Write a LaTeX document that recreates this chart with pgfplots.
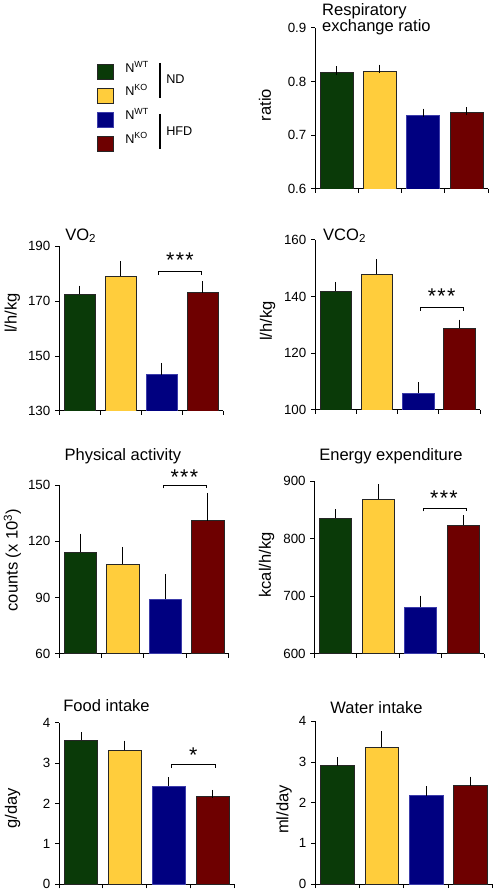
\documentclass[border=0pt]{standalone}
\usepackage{fontspec}
\setmainfont{Liberation Sans}
\usepackage{pgfplots}
\pgfplotsset{compat=1.18}
\definecolor{cG}{RGB}{10,58,8}
\definecolor{cY}{RGB}{255,205,60}
\definecolor{cB}{RGB}{0,0,128}
\definecolor{cBd}{RGB}{60,60,170}
\definecolor{cR}{RGB}{110,0,0}
\newcommand{\legfont}{\fontsize{9.5}{11}\selectfont}
\newcommand{\starfont}{\fontsize{16}{16}\selectfont}
\newcommand{\stars}{*\kern1pt*\kern1pt*}
\pgfplotsset{
  panel/.style={
    scale only axis, anchor=south west, clip mode=individual,
    axis x line*=bottom, axis y line*=left,
    axis line style={-, line width=0.75pt, black},
    xmin=0, xmax=4, xtick={0,1,2,3,4}, xticklabels={},
    tick align=outside, major tick length=3pt,
    major tick style={line width=0.75pt, black},
    ybar, bar width=0.76, bar shift=0pt,
    yticklabel style={font=\fontsize{10}{12}\selectfont, /pgf/number format/assume math mode=true},
    every axis title/.style={inner sep=0pt, font=\fontsize{12.4}{11.8}\selectfont},
    every axis y label/.style={rotate=90, anchor=center, inner sep=0pt, font=\fontsize{12.4}{14}\selectfont},
    error bars/y dir=plus, error bars/y explicit,
    error bars/error mark=-,
    error bars/error mark options={black, line width=0.75pt, mark size=3.1pt},
    error bars/error bar style={black, line width=0.75pt},
  },
  sqlegend/.style={legend image code/.code={\draw[##1, line width=0.75pt] (0pt,-5.7pt) rectangle (11.5pt,5.5pt);}},
}
\begin{document}
\begin{tikzpicture}[x=0.75pt, y=0.75pt]
\useasboundingbox (0,0) rectangle (498,891);

% Respiratory exchange ratio
\begin{axis}[panel, at={(236.25pt,526.5pt)}, width=129.75pt, height=120.75pt,
  ymin=0.6, ymax=0.9, ytick={0.6,0.7,0.8,0.9},
  ylabel={ratio}, ylabel style={at={(axis description cs:-0.289,0.522)}},
  title={Respiratory\\exchange ratio}, title style={at={(axis description cs:0.040,1.153)}, anchor=north west, align=left},
  legend style={at={(axis description cs:-1.258,0.795)}, anchor=north west, draw=none, fill=none,
    inner sep=0pt, outer sep=0pt, row sep=3.3pt, column sep=8.7pt, font=\legfont,
    cells={anchor=base west}, nodes={inner sep=0pt}}]
\addplot[fill=cG, draw=black!85, sqlegend] coordinates {(0.5,0.817) +- (0,0.004)};
\addlegendentry{N\textsuperscript{WT}}
\addplot[fill=cY, draw=black!85, sqlegend] coordinates {(1.5,0.820) +- (0,0.004)};
\addlegendentry{N\textsuperscript{KO}}
\addplot[fill=cB, draw=cBd, sqlegend] coordinates {(2.5,0.738) +- (0,0.004)};
\addlegendentry{N\textsuperscript{WT}}
\addplot[fill=cR, draw=black!85, sqlegend] coordinates {(3.5,0.743) +- (0,0.002)};
\addlegendentry{N\textsuperscript{KO}}
\end{axis}

% VO2
\begin{axis}[panel, at={(44.25pt,360pt)}, width=123pt, height=123.5pt,
  ymin=130, ymax=190, ytick={130,150,170,190},
  ylabel={l/h/kg}, ylabel style={at={(axis description cs:-0.284,0.595)}},
  title={VO\textsubscript{2}}, title style={at={(axis description cs:0.037,1.038)}, anchor=base west}]
\addplot[fill=cG, draw=black!85] coordinates {(0.5,172.6) +- (0,1.6)};
\addplot[fill=cY, draw=black!85] coordinates {(1.5,179.1) +- (0,4.0)};
\addplot[fill=cB, draw=cBd] coordinates {(2.5,143.2) +- (0,2.8)};
\addplot[fill=cR, draw=black!85] coordinates {(3.5,173.1) +- (0,2.6)};
\draw[line width=0.75pt] ([yshift=-2.5pt]axis cs:2.42,180.7) -- (axis cs:2.42,180.7) -- (axis cs:3.48,180.7) -- ([yshift=-2.5pt]axis cs:3.48,180.7);
\node[anchor=base, inner sep=0pt, font=\starfont] at ([yshift=3pt]axis cs:2.95,180.7) {\stars};
\end{axis}

% VCO2
\begin{axis}[panel, at={(236.25pt,360.75pt)}, width=123.75pt, height=127.7pt,
  ymin=100, ymax=160, ytick={100,120,140,160},
  ylabel={l/h/kg}, ylabel style={at={(axis description cs:-0.288,0.523)}},
  title={VCO\textsubscript{2}}, title style={at={(axis description cs:0.048,0.998)}, anchor=base west}]
\addplot[fill=cG, draw=black!85] coordinates {(0.5,142.0) +- (0,1.7)};
\addplot[fill=cY, draw=black!85] coordinates {(1.5,147.9) +- (0,3.8)};
\addplot[fill=cB, draw=cBd] coordinates {(2.5,106.0) +- (0,2.3)};
\addplot[fill=cR, draw=black!85] coordinates {(3.5,128.9) +- (0,1.5)};
\draw[line width=0.75pt] ([yshift=-2.5pt]axis cs:2.55,136.2) -- (axis cs:2.55,136.2) -- (axis cs:3.6,136.2) -- ([yshift=-2.5pt]axis cs:3.6,136.2);
\node[anchor=base, inner sep=0pt, font=\starfont] at ([yshift=2.5pt]axis cs:3.07,136.2) {\stars};
\end{axis}

% Physical activity
\begin{axis}[panel, at={(44.25pt,177.975pt)}, width=127.5pt, height=126.5pt,
  ymin=60, ymax=150, ytick={60,90,120,150},
  ylabel={counts (x 10\textsuperscript{3})}, ylabel style={at={(axis description cs:-0.274,0.555)}},
  title={Physical activity}, title style={at={(axis description cs:0.376,1.144)}, anchor=base}]
\addplot[fill=cG, draw=black!85] coordinates {(0.5,114.1) +- (0,7.8)};
\addplot[fill=cY, draw=black!85] coordinates {(1.5,107.9) +- (0,6.9)};
\addplot[fill=cB, draw=cBd] coordinates {(2.5,89.0) +- (0,11.2)};
\addplot[fill=cR, draw=black!85] coordinates {(3.5,131.0) +- (0,12.6)};
\draw[line width=0.75pt] ([yshift=-2.5pt]axis cs:2.45,150) -- (axis cs:2.45,150) -- (axis cs:3.48,150) -- ([yshift=-2.5pt]axis cs:3.48,150);
\node[anchor=base, inner sep=0pt, font=\starfont] at ([yshift=0.5pt]axis cs:2.95,150) {\stars};
\end{axis}

% Energy expenditure
\begin{axis}[panel, at={(235.725pt,177.975pt)}, width=127.5pt, height=129.5pt,
  ymin=600, ymax=900, ytick={600,700,800,900},
  ylabel={kcal/h/kg}, ylabel style={at={(axis description cs:-0.28,0.514)}},
  title={Energy expenditure}, title style={at={(axis description cs:0.451,1.118)}, anchor=base}]
\addplot[fill=cG, draw=black!85] coordinates {(0.5,835.7) +- (0,8.2)};
\addplot[fill=cY, draw=black!85] coordinates {(1.5,868.7) +- (0,18.6)};
\addplot[fill=cB, draw=cBd] coordinates {(2.5,680.5) +- (0,13.4)};
\addplot[fill=cR, draw=black!85] coordinates {(3.5,823.3) +- (0,10.4)};
\draw[line width=0.75pt] ([yshift=-2.5pt]axis cs:2.56,853) -- (axis cs:2.56,853) -- (axis cs:3.57,853) -- ([yshift=-2.5pt]axis cs:3.57,853);
\node[anchor=base, inner sep=0pt, font=\starfont] at ([yshift=2pt]axis cs:3.05,853) {\stars};
\end{axis}

% Food intake
\begin{axis}[panel, at={(44.25pt,5.025pt)}, width=132pt, height=121pt,
  ymin=0, ymax=4, ytick={0,1,2,3,4},
  ylabel={g/day}, ylabel style={at={(axis description cs:-0.264,0.473)}},
  title={Food intake}, title style={at={(axis description cs:0.27,1.07)}, anchor=base}]
\addplot[fill=cG, draw=black!85] coordinates {(0.5,3.58) +- (0,0.09)};
\addplot[fill=cY, draw=black!85] coordinates {(1.5,3.32) +- (0,0.14)};
\addplot[fill=cB, draw=cBd] coordinates {(2.5,2.44) +- (0,0.11)};
\addplot[fill=cR, draw=black!85] coordinates {(3.5,2.19) +- (0,0.05)};
\draw[line width=0.75pt] ([yshift=-2.5pt]axis cs:2.56,2.96) -- (axis cs:2.56,2.96) -- (axis cs:3.55,2.96) -- ([yshift=-2.5pt]axis cs:3.55,2.96);
\node[anchor=base, inner sep=0pt, font=\starfont] at ([yshift=2pt]axis cs:3.05,2.96) {*};
\end{axis}

% Water intake
\begin{axis}[panel, at={(236.25pt,5.25pt)}, width=133.3pt, height=122pt,
  ymin=0, ymax=4, ytick={0,1,2,3,4},
  ylabel={ml/day}, ylabel style={at={(axis description cs:-0.174,0.458)}},
  title={Water intake}, title style={at={(axis description cs:0.346,1.049)}, anchor=base}]
\addplot[fill=cG, draw=black!85] coordinates {(0.5,2.93) +- (0,0.08)};
\addplot[fill=cY, draw=black!85] coordinates {(1.5,3.36) +- (0,0.29)};
\addplot[fill=cB, draw=cBd] coordinates {(2.5,2.17) +- (0,0.13)};
\addplot[fill=cR, draw=black!85] coordinates {(3.5,2.42) +- (0,0.12)};
\end{axis}

% legend group brackets
\draw[line width=0.9pt] (160,828) -- (160,793);
\node[anchor=west, inner sep=0pt, font=\legfont] at (166,812) {ND};
\draw[line width=0.9pt] (160,777) -- (160,742);
\node[anchor=west, inner sep=0pt, font=\legfont] at (166,760) {HFD};
\end{tikzpicture}
\end{document}
